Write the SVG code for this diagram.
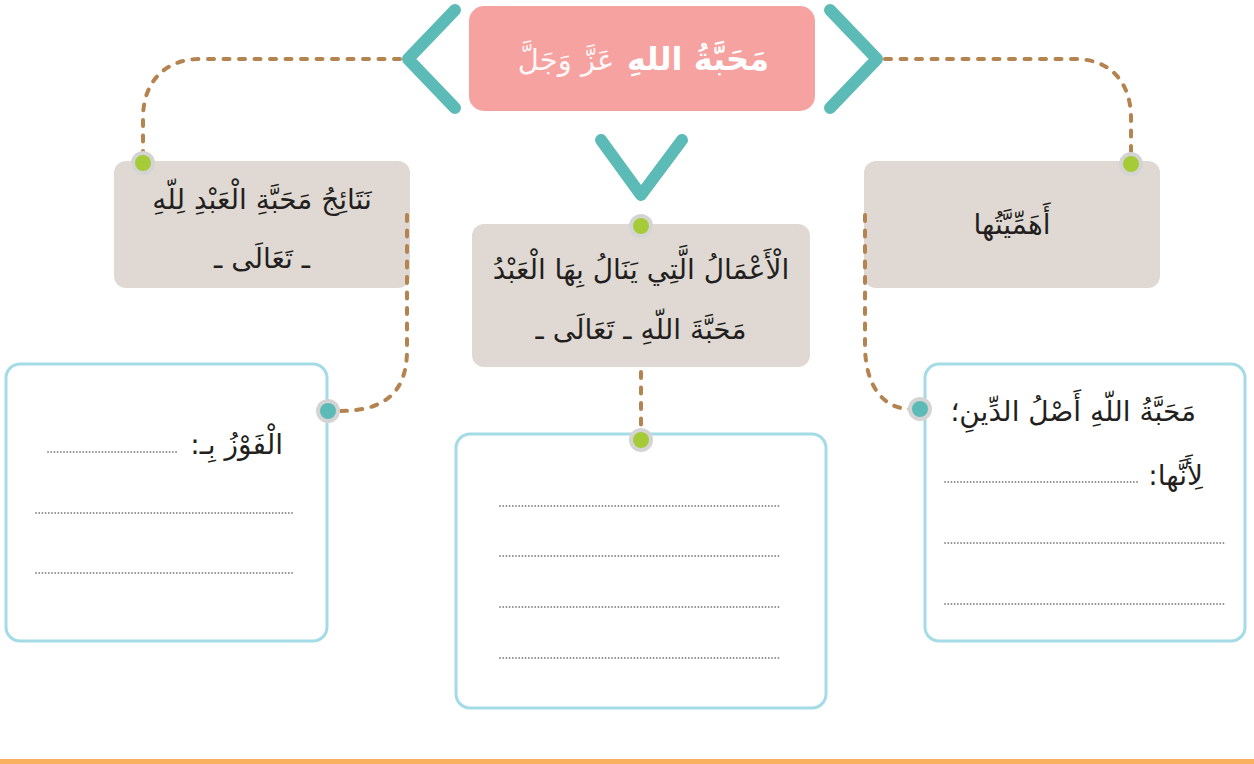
<svg xmlns="http://www.w3.org/2000/svg" width="1254" height="764" viewBox="0 0 1254 764">
<style>
.ar{font-family:"DejaVu Sans",sans-serif;fill:#231f20;direction:rtl;font-size:28px}
.beige{fill:#E0D9D3}
.ans{fill:#fff;stroke:#A3DBE6;stroke-width:3}
.chev{fill:none;stroke:#5DBBB7;stroke-width:12;stroke-linecap:round;stroke-linejoin:round}
.conn{fill:none;stroke:#B5834F;stroke-width:4;stroke-linecap:round;stroke-dasharray:6 9.5}
.dots{fill:none;stroke:#8f8f8f;stroke-width:1.8;stroke-linecap:round;stroke-dasharray:0.1 3.1}
.ring{fill:#D4D4D4}
.green{fill:#A6CB38}
.teal{fill:#5DBBB7}
</style>
<rect width="1254" height="764" fill="#fff"/>
<rect x="0" y="759" width="1254" height="5" fill="#F9B05F"/>

<g id="title">
<path class="chev" d="M455 10 L408 59 L455 108"/>
<path class="chev" d="M830 10 L877 59 L830 108"/>
<path class="chev" d="M601 140 L641 195 L682 140"/>
<rect x="469" y="6" width="346" height="105" rx="15" fill="#F6A2A0"/>
<text x="698" y="70" text-anchor="middle" class="ar" style="fill:#fff;font-weight:bold;font-size:32px">مَحَبَّةُ اللهِ</text>
<text x="566" y="70" text-anchor="middle" class="ar" style="fill:#fff;font-size:29px;opacity:0.92">عَزَّ وَجَلَّ</text>
</g>

<g id="node-results">
<rect class="beige" x="114" y="161" width="296" height="127" rx="12"/>
<text x="262" y="209" text-anchor="middle" class="ar">نَتَائِجُ مَحَبَّةِ الْعَبْدِ لِلّهِ</text>
<text x="262" y="268" text-anchor="middle" class="ar">ـ تَعَالَى ـ</text>
</g>

<g id="node-deeds">
<rect class="beige" x="472" y="224" width="338" height="143" rx="12"/>
<text x="641" y="279" text-anchor="middle" class="ar">الْأَعْمَالُ الَّتِي يَنَالُ بِهَا الْعَبْدُ</text>
<text x="641" y="339" text-anchor="middle" class="ar">مَحَبَّةَ اللّهِ ـ تَعَالَى ـ</text>
</g>

<g id="node-importance">
<rect class="beige" x="864" y="161" width="296" height="127" rx="12"/>
<text x="1012" y="234" text-anchor="middle" class="ar">أَهَمِّيَّتُها</text>
</g>

<g id="answer-left">
<rect class="ans" x="6" y="364" width="321" height="277" rx="14"/>
<text x="283" y="454" text-anchor="start" class="ar">الْفَوْزُ بِـ:</text>
<path class="dots" d="M48 452 H178 M36 513 H294 M36 573 H294"/>
</g>

<g id="answer-center">
<rect class="ans" x="456" y="434" width="370" height="274" rx="14"/>
<path class="dots" d="M500 506 H779 M500 556 H779 M500 607 H779 M500 658 H779"/>
</g>

<g id="answer-right">
<rect class="ans" x="925" y="364" width="320" height="277" rx="14"/>
<text x="1196" y="421" text-anchor="start" class="ar">مَحَبَّةُ اللّهِ أَصْلُ الدِّينِ؛</text>
<text x="1203" y="485" text-anchor="start" class="ar">لِأَنَّها:</text>
<path class="dots" d="M945 482 H1138 M945 543 H1224 M945 604 H1224"/>
</g>

<g id="connectors">
<path class="conn" d="M400 59 H200 C165 59 143 82 143 118 V152"/>
<path class="conn" d="M885 59 H1075 C1110 59 1131 82 1131 118 V152"/>
<path class="conn" d="M407 215 V350 C407 392 385 411 340 411"/>
<path class="conn" d="M865 215 V345 C865 388 885 409 910 409"/>
<path class="conn" d="M641 372 V428"/>
</g>

<g id="dots">
<circle class="ring" cx="143" cy="163" r="12"/><circle class="green" cx="143" cy="163" r="8"/>
<circle class="ring" cx="1131" cy="164" r="12"/><circle class="green" cx="1131" cy="164" r="8"/>
<circle class="ring" cx="641" cy="226" r="12"/><circle class="green" cx="641" cy="226" r="8"/>
<circle class="ring" cx="641" cy="440" r="12"/><circle class="green" cx="641" cy="440" r="8"/>
<circle class="ring" cx="328" cy="411" r="12"/><circle class="teal" cx="328" cy="411" r="8"/>
<circle class="ring" cx="920" cy="409" r="12"/><circle class="teal" cx="920" cy="409" r="8"/>
</g>
</svg>
